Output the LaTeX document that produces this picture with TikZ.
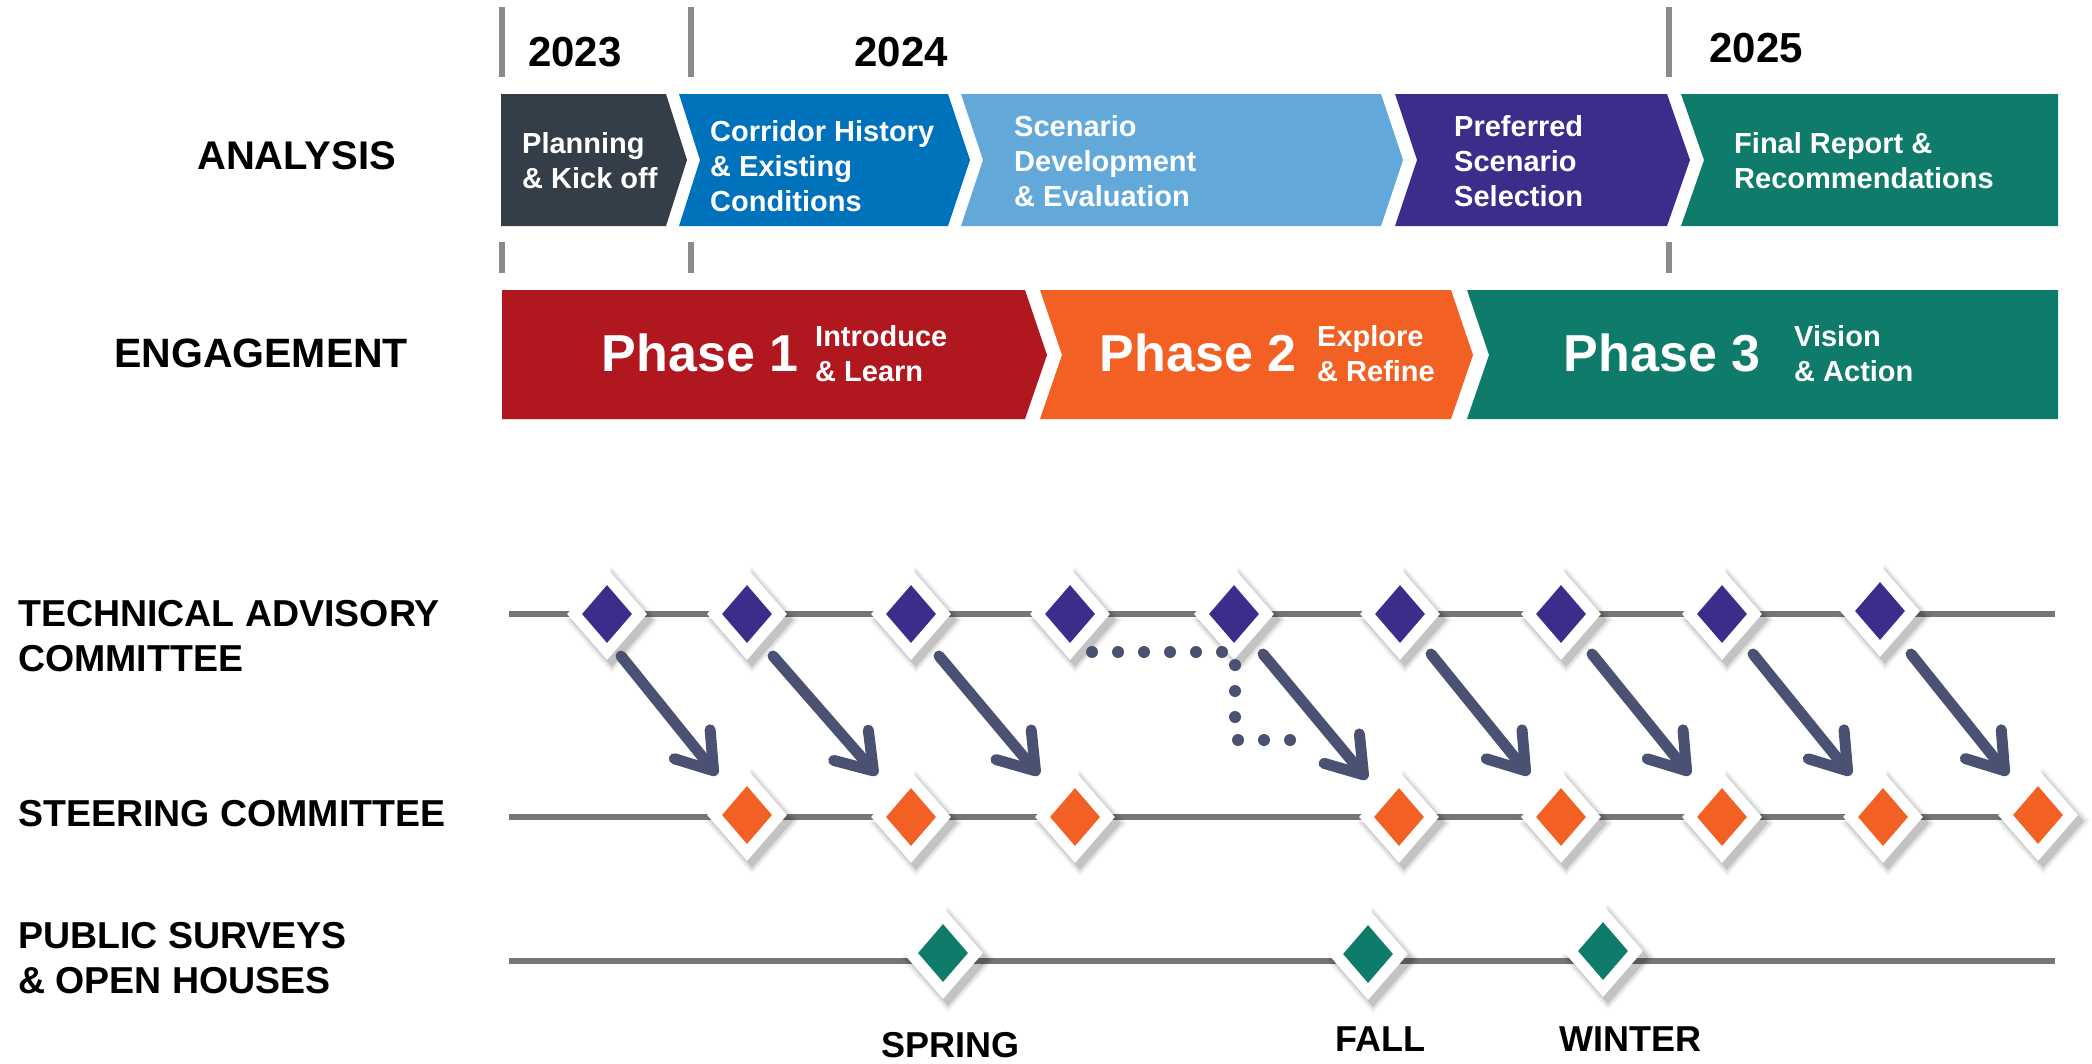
\documentclass[tikz,border=0pt]{standalone}
\usepackage{fontspec}
\setmainfont{Liberation Sans}
\usetikzlibrary{shapes.geometric,arrows.meta}
\definecolor{cDark}{HTML}{343E48}
\definecolor{cBlue}{HTML}{0072BC}
\definecolor{cLight}{HTML}{62A9D9}
\definecolor{cPurple}{HTML}{3B2E8B}
\definecolor{cTeal}{HTML}{0E7B6B}
\definecolor{cRed}{HTML}{B1171F}
\definecolor{cOrange}{HTML}{F26024}
\definecolor{cArrow}{HTML}{4A5172}
\definecolor{cLine}{HTML}{767676}
\definecolor{cTick}{HTML}{8A8A8A}
\newcommand\mstone[4]{%
  \foreach \hw/\hh/\op in {47/53/0.05, 44/50/0.08, 41/47/0.12}{%
    \fill[black, opacity=\op] (#2+5,#3+6-\hh) -- (#2+5+\hw,#3+6) -- (#2+5,#3+6+\hh) -- (#2+5-\hw,#3+6) -- cycle;}%
  \node[douter] (#1) at (#2,#3) {};%
  \node[dinner, fill=#4] (#1i) at (#2,#3) {};%
}
\begin{document}
\begin{tikzpicture}[x=1pt,y=-1pt,
  douter/.style={diamond, fill=white, inner sep=0pt, minimum width=80pt, minimum height=92pt},
  dinner/.style={diamond, inner sep=0pt, minimum width=50pt, minimum height=58pt},
  tick/.style={draw=cTick, line width=5.5pt},
  tline/.style={draw=cLine, line width=6pt},
  arr/.style={draw=cArrow, line width=11pt, line cap=round, -{Straight Barb[length=34pt, width=46pt, round]}},
  dots/.style={draw=cArrow, line width=12pt, line cap=round, dash pattern=on 0pt off 26pt},
  yr/.style={inner sep=0pt, font=\bfseries\fontsize{42}{48}\selectfont},
  rowlbl/.style={inner sep=0pt, anchor=west, font=\bfseries\fontsize{40}{48}\selectfont},
  cmlbl/.style={inner sep=0pt, anchor=west, align=left, font=\bfseries\fontsize{37.5}{45}\selectfont},
  season/.style={inner sep=0pt, font=\bfseries\fontsize{36}{42}\selectfont},
  boxtxt/.style={inner sep=0pt, anchor=west, align=left, text=white, font=\bfseries\fontsize{29}{35}\selectfont},
  phase/.style={inner sep=0pt, text=white, font=\bfseries\fontsize{52}{60}\selectfont},
  phsub/.style={inner sep=0pt, anchor=west, align=left, text=white, font=\bfseries\fontsize{29}{35}\selectfont}]
\useasboundingbox (0,0) rectangle (2092,1063);
\fill[white] (0,0) rectangle (2092,1063);

% year ticks
\foreach \x in {502,691,1669}{
  \draw[tick] (\x,7) -- (\x,77);
  \draw[tick] (\x,242) -- (\x,273);
}
\node[yr] (y23) at (575,52) {2023};
\node[yr] (y24) at (901,52) {2024};
\node[yr] (y25) at (1756,48) {2025};

% analysis chevrons
\fill[cDark] (501,94) -- (666,94) -- (687,160) -- (666,226) -- (501,226) -- cycle;
\fill[cBlue] (679,94) -- (948,94) -- (970,160) -- (948,226) -- (679,226) -- (700,160) -- cycle;
\fill[cLight] (961,94) -- (1381,94) -- (1403,160) -- (1381,226) -- (961,226) -- (983,160) -- cycle;
\fill[cPurple] (1395,94) -- (1667,94) -- (1690,160) -- (1667,226) -- (1395,226) -- (1417,160) -- cycle;
\fill[cTeal] (1681,94) -- (2058,94) -- (2058,226) -- (1681,226) -- (1704,160) -- cycle;

\node[boxtxt] (a1) at (522,161) {Planning\\\& Kick off};
\node[boxtxt] (a2) at (710,166) {Corridor History\\\& Existing\\Conditions};
\node[boxtxt] (a3) at (1014,161) {Scenario\\Development\\\& Evaluation};
\node[boxtxt] (a4) at (1454,161) {Preferred\\Scenario\\Selection};
\node[boxtxt] (a5) at (1734,161) {Final Report \&\\Recommendations};

% engagement chevrons
\fill[cRed] (502,290) -- (1025,290) -- (1047,355) -- (1025,419) -- (502,419) -- cycle;
\fill[cOrange] (1040,290) -- (1451,290) -- (1473,355) -- (1451,419) -- (1040,419) -- (1062,355) -- cycle;
\fill[cTeal] (1467,290) -- (2058,290) -- (2058,419) -- (1467,419) -- (1489,355) -- cycle;

\node[phase] (p1) at (700,353) {Phase 1};
\node[phsub] (p1s) at (815,354) {Introduce\\\& Learn};
\node[phase] (p2) at (1198,353) {Phase 2};
\node[phsub] (p2s) at (1317,354) {Explore\\\& Refine};
\node[phase] (p3) at (1662,353) {Phase 3};
\node[phsub] (p3s) at (1794,354) {Vision\\\& Action};

% row labels
\node[rowlbl] (lA) at (197,156) {ANALYSIS};
\node[rowlbl, font=\bfseries\fontsize{41}{48}\selectfont] (lE) at (114,353) {ENGAGEMENT};
\node[cmlbl] (lT) at (18,636) {TECHNICAL ADVISORY\\COMMITTEE};
\node[cmlbl] (lS) at (18,814) {STEERING COMMITTEE};
\node[cmlbl] (lP) at (18,958) {PUBLIC SURVEYS\\\& OPEN HOUSES};

% timelines
\coordinate (tL) at (509,614); \coordinate (tR) at (2055,614);
\coordinate (sL) at (509,817); \coordinate (sR) at (2055,817);
\coordinate (pL) at (509,961); \coordinate (pR) at (2055,961);
\draw[tline] (tL) -- (tR);
\draw[tline] (sL) -- (sR);
\draw[tline] (pL) -- (pR);

% milestones
\mstone{t1}{607}{614}{cPurple}
\mstone{t2}{747}{614}{cPurple}
\mstone{t3}{911}{614}{cPurple}
\mstone{t4}{1070}{614}{cPurple}
\mstone{t5}{1234}{614}{cPurple}
\mstone{t6}{1400}{614}{cPurple}
\mstone{t7}{1561}{614}{cPurple}
\mstone{t8}{1722}{614}{cPurple}
\mstone{t9}{1880}{611}{cPurple}

\mstone{s1}{747}{815}{cOrange}
\mstone{s2}{911}{817}{cOrange}
\mstone{s3}{1075}{817}{cOrange}
\mstone{s4}{1399}{817}{cOrange}
\mstone{s5}{1561}{817}{cOrange}
\mstone{s6}{1722}{817}{cOrange}
\mstone{s7}{1883}{817}{cOrange}
\mstone{s8}{2038}{815}{cOrange}

\mstone{q1}{943}{953}{cTeal}
\mstone{q2}{1368}{954}{cTeal}
\mstone{q3}{1603}{951}{cTeal}

% arrows
\draw[arr] ([shift={(14,42)}]t1.center) -- ([shift={(-30,-40)}]s1.center);
\draw[arr] ([shift={(26,42)}]t2.center) -- ([shift={(-34,-42)}]s2.center);
\draw[arr] ([shift={(28,42)}]t3.center) -- ([shift={(-36,-42)}]s3.center);
\draw[arr] ([shift={(29,40)}]t5.center) -- ([shift={(-32,-38)}]s4.center);
\draw[arr] ([shift={(31,40)}]t6.center) -- ([shift={(-32,-42)}]s5.center);
\draw[arr] ([shift={(31,40)}]t7.center) -- ([shift={(-32,-42)}]s6.center);
\draw[arr] ([shift={(31,40)}]t8.center) -- ([shift={(-32,-42)}]s7.center);
\draw[arr] ([shift={(31,43)}]t9.center) -- ([shift={(-30,-40)}]s8.center);
\draw[dots] ([shift={(22,38)}]t4.center) -- ([shift={(1,38)}]t5.center) -- ([shift={(1,126)}]t5.center) -- ([shift={(74,126)}]t5.center);

% seasons
\node[season] (sp) at (950,1045) {SPRING};
\node[season] (fa) at (1380,1039) {FALL};
\node[season] (wi) at (1630,1039) {WINTER};
\end{tikzpicture}
\end{document}
